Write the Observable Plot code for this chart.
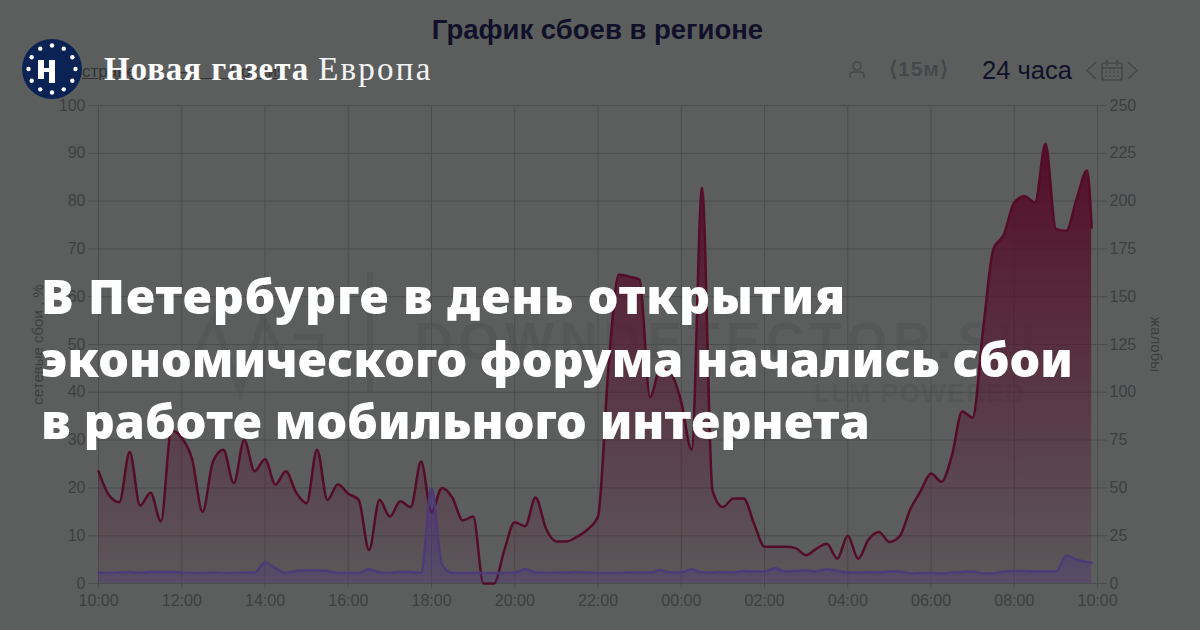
<!DOCTYPE html>
<html><head><meta charset="utf-8">
<script src="https://cdn.jsdelivr.net/npm/d3@7"></script>
<script src="https://cdn.jsdelivr.net/npm/@observablehq/plot@0.6"></script>
<style>
html,body{margin:0;padding:0;background:#5c5e5e;width:1200px;height:630px;overflow:hidden}
#page{position:relative;width:1200px;height:630px}
.abs{position:absolute;white-space:nowrap}
#title{left:0;width:1195px;top:14px;text-align:center;font:700 27.5px "Liberation Sans",sans-serif;color:#101128}
#hours{left:982px;top:56px;font:25.5px "Liberation Sans",sans-serif;color:#101128}
#period{left:889px;top:57px;font:700 21px "Liberation Sans",sans-serif;color:#45484a;letter-spacing:1px}
#sub{left:82px;top:62px;font:17px "Liberation Sans",sans-serif;color:#333;text-decoration:underline;word-spacing:34px}
#head{left:41px;top:264px;font:900 48.5px/62.5px "Noto Sans",sans-serif;color:#fff}
#head span{display:block}
#brand{left:104px;top:51px;font:700 33px "Liberation Serif",serif;color:#fff;letter-spacing:.9px}
#brand span{font-weight:400;color:#f4f4f4;letter-spacing:2.2px}
#wm1{left:415px;top:311px;font:700 52px "Liberation Sans",sans-serif;color:#565858;letter-spacing:6px}
#wm2{left:814px;top:378px;font:700 26px "Liberation Sans",sans-serif;color:#565858;letter-spacing:1.5px}
</style></head><body><div id="page">
<svg class="abs" style="left:0;top:0" width="1200" height="630"><path d="M188 372L214 318L240 392L263 318L290 372M294 337H320V352H294M370 272V392" fill="none" stroke="#565858" stroke-width="6"/></svg>
<div id="wm1" class="abs">DOWNDETECTOR.SU</div>
<div id="wm2" class="abs">LLM POWERED</div>
<div id="chart" class="abs" style="left:0;top:0"></div>
<div id="title" class="abs">График сбоев в регионе</div>
<div id="sub" class="abs">стране — Россия</div>
<div id="period" class="abs">⟨15м⟩</div>
<div id="hours" class="abs">24 часа</div>
<svg class="abs" style="left:0;top:0" width="1200" height="100" fill="none" stroke="#45484a" stroke-width="1.6">
<circle cx="857" cy="66" r="4"/><path d="M850 78v-3q0-3 4-3h6q4 0 4 3v3"/>
<path d="M1096 62L1087 70.5L1096 79M1128 62L1137 70.5L1128 79"/>
<rect x="1102" y="63" width="20" height="17" rx="2"/><path d="M1102 68H1122M1107 60V65M1117 60V65"/>
<path d="M1105 72H1119M1105 76H1119" stroke-dasharray="2 2" stroke-width="1"/>
</svg>
<svg class="abs" id="logo" style="left:22px;top:39px" width="60" height="60" viewBox="0 0 60 60"></svg>
<div id="brand" class="abs">Новая газета <span>Европа</span></div>
<div id="head" class="abs"><span id="h1">В Петербурге в день открытия</span><span id="h2">экономического форума начались сбои</span><span id="h3">в работе мобильного интернета</span></div>
</div>
<script>
const redValues = [23.5,18.5,17,27.5,16.3,19,13,32,30.5,26,15,25.5,28,21,30,23.5,26,20.7,23.5,19,16.8,28,17.5,20.7,18.8,17.5,7,17.5,14,17.2,16,25.5,15,20,18,13.2,14,0,0,7,12.8,12,18,11.5,8.8,8.8,9.8,11.3,14,45,64.6,64.2,63.6,39,45,44,38,28,82.8,19.5,16,17.8,17.8,12.5,7.7,7.7,7.7,7.4,5.9,7.3,8.3,5.2,10,5.2,9.2,10.8,8.7,9.9,15.5,19.3,23,21.3,26.7,36,34.7,53,70,73,79.7,81,79.7,92,74.2,73.8,80.5,86.4,74.5];
const purpleValues = [2.3,2.2,2.3,2.4,2.2,2.4,2.4,2.4,2.3,2.2,2.2,2.3,2.2,2.2,2.3,2.3,4.4,3.2,2.2,2.6,2.7,2.7,2.6,2.2,2.2,2.2,3,2.3,2.2,2.4,2.4,2.2,20,4,2.2,2.2,2.2,2.2,2.2,2.2,2.3,3,2.3,2.2,2.3,2.3,2.4,2.3,2.2,2.2,2.2,2.3,2.3,2.3,2.8,2.3,2.3,3,2.3,2.3,2.4,2.3,2.6,2.5,2.5,3.2,2.5,2.6,2.7,2.5,3,2.6,2.3,2.3,2.4,2.3,2.5,2.5,2.1,2.2,2.2,2.1,2.3,2.4,2.5,2.1,2.1,2.5,2.6,2.6,2.5,2.5,2.5,5.8,5,4.3];
const leftTicks = [0,10,20,30,40,50,60,70,80,90,100];
const timeTicks = [0,2,4,6,8,10,12,14,16,18,20,22,24];
const timeLabels = ["10:00","12:00","14:00","16:00","18:00","20:00","22:00","00:00","02:00","04:00","06:00","08:00","10:00"];
const lastHour = 23.86;
const toRows = vals => vals.map((v, i) => ({h: i === vals.length - 1 ? lastHour : i / 4, v}));
const red = toRows(redValues);
const purple = toRows(purpleValues);
const tickFmt = d => timeLabels[timeTicks.indexOf(d)];

const gradient = () => {
  const svg = d3.create("svg:defs");
  const mk = (id, c, a, b) => {
    const g = svg.append("linearGradient").attr("id", id).attr("x1",0).attr("x2",0).attr("y1",0).attr("y2",1);
    g.append("stop").attr("offset","0%").attr("stop-color",c).attr("stop-opacity",a);
    g.append("stop").attr("offset","100%").attr("stop-color",c).attr("stop-opacity",b);
  };
  mk("redG","#540c28",0.98,0.08);
  mk("purG","#4a2f86",0.55,0.25);
  return svg.node();
};

const plot = Plot.plot({
  width: 1200, height: 630,
  marginLeft: 98, marginRight: 103, marginTop: 105, marginBottom: 47,
  style: {background: "transparent", fontFamily: "'Liberation Sans',sans-serif", fontSize: "16px", color: "#3d3f3f"},
  x: {domain: [0, 24], axis: null},
  y: {domain: [0, 100], axis: null},
  marks: [
    gradient,
    Plot.gridX(timeTicks, {stroke: "#4c4e4e", strokeOpacity: 1, strokeWidth: 1}),
    Plot.gridY(leftTicks, {stroke: "#4c4e4e", strokeOpacity: 1, strokeWidth: 1}),
    Plot.axisX({ticks: timeTicks, tickFormat: tickFmt, tickSize: 5, tickPadding: 6, stroke: "#4c4e4e", color: "#3d3f3f", fontSize: 16, label: null}),
    Plot.axisY({ticks: leftTicks, tickSize: 10, tickPadding: 3, stroke: "#4c4e4e", fontSize: 16, anchor: "left", label: null}),
    Plot.axisY({ticks: leftTicks, tickFormat: d => d * 2.5, tickSize: 9, tickPadding: 3, stroke: "#4c4e4e", fontSize: 16, anchor: "right", label: null}),
    Plot.text(["сетевые сбои , %"], {frameAnchor: "left", rotate: -90, dx: -60, fontSize: 15, fill: "#3d3f3f", textAnchor: "middle"}),
    Plot.text(["жалобы"], {frameAnchor: "right", rotate: 90, dx: 58, fontSize: 15, fill: "#3d3f3f", textAnchor: "middle"}),
    Plot.areaY(red, {x: "h", y: "v", curve: "monotone-x", fill: "url(#redG)"}),
    Plot.lineY(red, {x: "h", y: "v", curve: "monotone-x", stroke: "#540c28", strokeWidth: 2.5}),
    Plot.areaY(purple, {x: "h", y: "v", curve: "monotone-x", fill: "url(#purG)"}),
    Plot.lineY(purple, {x: "h", y: "v", curve: "monotone-x", stroke: "#4d3a78", strokeWidth: 2.5})
  ]
});
document.getElementById("chart").append(plot);

// fit each headline line to the width it has in the reference
const lineEnds = {h1: 846, h2: 1073, h3: 870};
Object.entries(lineEnds).forEach(([id, end]) => {
  const el = document.getElementById(id);
  const r = document.createRange(); r.selectNodeContents(el);
  const w = r.getBoundingClientRect().width;
  el.style.letterSpacing = ((end - 41 - w) / el.textContent.length) + "px";
});

// publisher logo
const logo = d3.select("#logo");
logo.append("circle").attr("cx",30).attr("cy",30).attr("r",30).attr("fill","#0a2354");
d3.range(12).forEach(k => {
  const a = k * Math.PI / 6;
  logo.append("circle").attr("cx",30+23.5*Math.sin(a)).attr("cy",30-23.5*Math.cos(a)).attr("r",2.2).attr("fill","#fff");
});
logo.append("path").attr("d","M16 21h6v8h5v-8h6v23h-6V33h-5v7h-6z").attr("fill","#fff");
</script></body></html>
